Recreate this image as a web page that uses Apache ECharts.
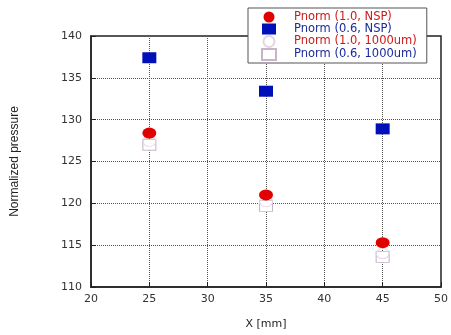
<!DOCTYPE html>
<html><head><meta charset="utf-8">
<script src="https://cdn.jsdelivr.net/npm/echarts@6/dist/echarts.min.js"></script>
<style>html,body{margin:0;padding:0;background:#fff}#c{width:451px;height:335px}</style>
</head><body><div id="c"></div>
<script>
var xCats = [25, 35, 45];
var pNorm10NSP = [128.4, 121.0, 115.3];
var pNorm06NSP = [137.4, 133.4, 128.9];
var pNorm101000 = [127.4, 120.2, 114.0];
var pNorm061000 = [127.0, 119.7, 113.6];
var names = ['Pnorm (1.0, NSP)', 'Pnorm (0.6, NSP)', 'Pnorm (1.0, 1000um)', 'Pnorm (0.6, 1000um)'];

function pts(v){ return xCats.map(function(x,i){ return [x, v[i]]; }); }

var chart = echarts.init(document.getElementById('c'));
chart.setOption({
  animation:false,
  grid:{left:91, right:8, top:36, bottom:48, show:true, borderColor:'#222', borderWidth:1.5, backgroundColor:'transparent'},
  legend:{
    orient:'vertical', left:248, top:8,
    backgroundColor:'#fff', borderColor:'#555', borderWidth:1,
    padding:[3,10,2,13], itemGap:0, itemWidth:14, itemHeight:11,
    textStyle:{fontFamily:'DejaVu Sans', fontSize:11.5, lineHeight:11, padding:[0,0,0,13]},
    data:[
      {name:names[0], textStyle:{color:'#d01818'}},
      {name:names[1], textStyle:{color:'#1a2a9a'}},
      {name:names[2], textStyle:{color:'#d01818'}},
      {name:names[3], textStyle:{color:'#1a2a9a'}}
    ]
  },
  xAxis:{
    type:'value', min:20, max:50, interval:5,
    name:'X [mm]', nameLocation:'middle', nameGap:32,
    nameTextStyle:{fontFamily:'DejaVu Sans', fontSize:11, color:'#222'},
    axisLine:{lineStyle:{color:'#222', width:1.5}},
    axisTick:{inside:true, length:5, lineStyle:{color:'#222'}},
    axisLabel:{fontFamily:'DejaVu Sans', fontSize:11, color:'#333', margin:7},
    splitLine:{show:true, lineStyle:{color:'#555', type:[1,1], width:1}}
  },
  yAxis:{
    type:'value', min:110, max:140, interval:5,
    name:'Normalized pressure', nameLocation:'middle', nameGap:70,
    nameTextStyle:{fontFamily:'Liberation Sans Narrow, Liberation Sans', fontSize:12, color:'#222'},
    axisLine:{lineStyle:{color:'#222', width:1.5}},
    axisTick:{inside:true, length:5, lineStyle:{color:'#222'}},
    axisLabel:{fontFamily:'DejaVu Sans', fontSize:11, color:'#333', margin:9},
    splitLine:{show:true, lineStyle:{color:'#555', type:[1,1], width:1}}
  },
  series:[
    {name:names[3], type:'scatter', data:pts(pNorm061000), symbol:'rect', symbolSize:[13,11],
     itemStyle:{color:'#fff', borderColor:'#c8b4c8', borderWidth:1, opacity:1}},
    {name:names[2], type:'scatter', data:pts(pNorm101000), symbol:'circle', symbolSize:[13,10],
     itemStyle:{color:'rgba(255,255,255,0)', borderColor:'#e4d4e4', borderWidth:1, opacity:1}},
    {name:names[1], type:'scatter', data:pts(pNorm06NSP), symbol:'rect', symbolSize:[14,11],
     itemStyle:{color:'#0010b8', opacity:1}},
    {name:names[0], type:'scatter', data:pts(pNorm10NSP), symbol:'circle', symbolSize:[14,11],
     itemStyle:{color:'#e00000', opacity:1}}
  ]
});
</script></body></html>
